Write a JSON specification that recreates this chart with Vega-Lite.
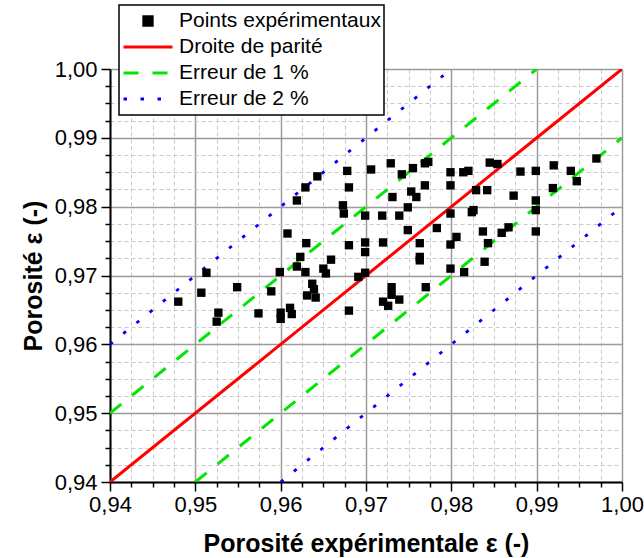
{
  "$schema": "https://vega.github.io/schema/vega-lite/v6.json",
  "width": 512,
  "height": 413,
  "autosize": {"type": "none"},
  "padding": {"left": 110, "top": 69, "right": 22, "bottom": 76},
  "background": "white",
  "config": {"font": "Liberation Sans", "view": {"stroke": null}},
  "datasets": {
    "points": [
      {"series": "Points expérimentaux", "x": 0.9480, "y": 0.9662},
      {"series": "Points expérimentaux", "x": 0.9507, "y": 0.9675},
      {"series": "Points expérimentaux", "x": 0.9513, "y": 0.9704},
      {"series": "Points expérimentaux", "x": 0.9549, "y": 0.9683},
      {"series": "Points expérimentaux", "x": 0.9527, "y": 0.9646},
      {"series": "Points expérimentaux", "x": 0.9525, "y": 0.9633},
      {"series": "Points expérimentaux", "x": 0.9574, "y": 0.9645},
      {"series": "Points expérimentaux", "x": 0.9589, "y": 0.9677},
      {"series": "Points expérimentaux", "x": 0.9599, "y": 0.9705},
      {"series": "Points expérimentaux", "x": 0.9600, "y": 0.9646},
      {"series": "Points expérimentaux", "x": 0.9600, "y": 0.9637},
      {"series": "Points expérimentaux", "x": 0.9611, "y": 0.9653},
      {"series": "Points expérimentaux", "x": 0.9613, "y": 0.9644},
      {"series": "Points expérimentaux", "x": 0.9608, "y": 0.9761},
      {"series": "Points expérimentaux", "x": 0.9619, "y": 0.9809},
      {"series": "Points expérimentaux", "x": 0.9629, "y": 0.9828},
      {"series": "Points expérimentaux", "x": 0.9643, "y": 0.9844},
      {"series": "Points expérimentaux", "x": 0.9630, "y": 0.9747},
      {"series": "Points expérimentaux", "x": 0.9623, "y": 0.9727},
      {"series": "Points expérimentaux", "x": 0.9619, "y": 0.9713},
      {"series": "Points expérimentaux", "x": 0.9629, "y": 0.9705},
      {"series": "Points expérimentaux", "x": 0.9631, "y": 0.9671},
      {"series": "Points expérimentaux", "x": 0.9637, "y": 0.9688},
      {"series": "Points expérimentaux", "x": 0.9639, "y": 0.9680},
      {"series": "Points expérimentaux", "x": 0.9641, "y": 0.9668},
      {"series": "Points expérimentaux", "x": 0.9650, "y": 0.9710},
      {"series": "Points expérimentaux", "x": 0.9653, "y": 0.9703},
      {"series": "Points expérimentaux", "x": 0.9659, "y": 0.9723},
      {"series": "Points expérimentaux", "x": 0.9678, "y": 0.9852},
      {"series": "Points expérimentaux", "x": 0.9680, "y": 0.9828},
      {"series": "Points expérimentaux", "x": 0.9673, "y": 0.9802},
      {"series": "Points expérimentaux", "x": 0.9674, "y": 0.9790},
      {"series": "Points expérimentaux", "x": 0.9680, "y": 0.9744},
      {"series": "Points expérimentaux", "x": 0.9680, "y": 0.9649},
      {"series": "Points expérimentaux", "x": 0.9691, "y": 0.9698},
      {"series": "Points expérimentaux", "x": 0.9699, "y": 0.9704},
      {"series": "Points expérimentaux", "x": 0.9699, "y": 0.9748},
      {"series": "Points expérimentaux", "x": 0.9699, "y": 0.9734},
      {"series": "Points expérimentaux", "x": 0.9699, "y": 0.9787},
      {"series": "Points expérimentaux", "x": 0.9706, "y": 0.9854},
      {"series": "Points expérimentaux", "x": 0.9719, "y": 0.9787},
      {"series": "Points expérimentaux", "x": 0.9720, "y": 0.9748},
      {"series": "Points expérimentaux", "x": 0.9729, "y": 0.9863},
      {"series": "Points expérimentaux", "x": 0.9731, "y": 0.9814},
      {"series": "Points expérimentaux", "x": 0.9739, "y": 0.9787},
      {"series": "Points expérimentaux", "x": 0.9742, "y": 0.9847},
      {"series": "Points expérimentaux", "x": 0.9755, "y": 0.9856},
      {"series": "Points expérimentaux", "x": 0.9753, "y": 0.9822},
      {"series": "Points expérimentaux", "x": 0.9759, "y": 0.9814},
      {"series": "Points expérimentaux", "x": 0.9749, "y": 0.9799},
      {"series": "Points expérimentaux", "x": 0.9749, "y": 0.9766},
      {"series": "Points expérimentaux", "x": 0.9730, "y": 0.9683},
      {"series": "Points expérimentaux", "x": 0.9730, "y": 0.9672},
      {"series": "Points expérimentaux", "x": 0.9720, "y": 0.9662},
      {"series": "Points expérimentaux", "x": 0.9726, "y": 0.9656},
      {"series": "Points expérimentaux", "x": 0.9739, "y": 0.9665},
      {"series": "Points expérimentaux", "x": 0.9763, "y": 0.9747},
      {"series": "Points expérimentaux", "x": 0.9763, "y": 0.9727},
      {"series": "Points expérimentaux", "x": 0.9763, "y": 0.9722},
      {"series": "Points expérimentaux", "x": 0.9770, "y": 0.9683},
      {"series": "Points expérimentaux", "x": 0.9769, "y": 0.9863},
      {"series": "Points expérimentaux", "x": 0.9773, "y": 0.9865},
      {"series": "Points expérimentaux", "x": 0.9769, "y": 0.9831},
      {"series": "Points expérimentaux", "x": 0.9783, "y": 0.9769},
      {"series": "Points expérimentaux", "x": 0.9799, "y": 0.9850},
      {"series": "Points expérimentaux", "x": 0.9799, "y": 0.9831},
      {"series": "Points expérimentaux", "x": 0.9799, "y": 0.9790},
      {"series": "Points expérimentaux", "x": 0.9799, "y": 0.9745},
      {"series": "Points expérimentaux", "x": 0.9799, "y": 0.9710},
      {"series": "Points expérimentaux", "x": 0.9806, "y": 0.9756},
      {"series": "Points expérimentaux", "x": 0.9814, "y": 0.9850},
      {"series": "Points expérimentaux", "x": 0.9820, "y": 0.9852},
      {"series": "Points expérimentaux", "x": 0.9829, "y": 0.9824},
      {"series": "Points expérimentaux", "x": 0.9842, "y": 0.9824},
      {"series": "Points expérimentaux", "x": 0.9824, "y": 0.9792},
      {"series": "Points expérimentaux", "x": 0.9826, "y": 0.9795},
      {"series": "Points expérimentaux", "x": 0.9815, "y": 0.9705},
      {"series": "Points expérimentaux", "x": 0.9837, "y": 0.9764},
      {"series": "Points expérimentaux", "x": 0.9843, "y": 0.9747},
      {"series": "Points expérimentaux", "x": 0.9839, "y": 0.9720},
      {"series": "Points expérimentaux", "x": 0.9845, "y": 0.9864},
      {"series": "Points expérimentaux", "x": 0.9854, "y": 0.9862},
      {"series": "Points expérimentaux", "x": 0.9859, "y": 0.9762},
      {"series": "Points expérimentaux", "x": 0.9867, "y": 0.9770},
      {"series": "Points expérimentaux", "x": 0.9873, "y": 0.9816},
      {"series": "Points expérimentaux", "x": 0.9881, "y": 0.9851},
      {"series": "Points expérimentaux", "x": 0.9899, "y": 0.9852},
      {"series": "Points expérimentaux", "x": 0.9899, "y": 0.9809},
      {"series": "Points expérimentaux", "x": 0.9899, "y": 0.9795},
      {"series": "Points expérimentaux", "x": 0.9899, "y": 0.9764},
      {"series": "Points expérimentaux", "x": 0.9919, "y": 0.9827},
      {"series": "Points expérimentaux", "x": 0.9920, "y": 0.9860},
      {"series": "Points expérimentaux", "x": 0.9940, "y": 0.9852},
      {"series": "Points expérimentaux", "x": 0.9947, "y": 0.9837},
      {"series": "Points expérimentaux", "x": 0.9970, "y": 0.9870}
    ],
    "lines": [
      {"series": "Droite de parité", "part": "centre", "x": 0.94, "y": 0.94},
      {"series": "Droite de parité", "part": "centre", "x": 1.00, "y": 1.00},
      {"series": "Erreur de 1 %", "part": "haut", "x": 0.94, "y": 0.95},
      {"series": "Erreur de 1 %", "part": "haut", "x": 0.99, "y": 1.00},
      {"series": "Erreur de 1 %", "part": "bas", "x": 0.95, "y": 0.94},
      {"series": "Erreur de 1 %", "part": "bas", "x": 1.00, "y": 0.99},
      {"series": "Erreur de 2 %", "part": "haut", "x": 0.94, "y": 0.96},
      {"series": "Erreur de 2 %", "part": "haut", "x": 0.98, "y": 1.00},
      {"series": "Erreur de 2 %", "part": "bas", "x": 0.96, "y": 0.94},
      {"series": "Erreur de 2 %", "part": "bas", "x": 1.00, "y": 0.98}
    ]
  },
  "encoding": {
    "x": {
      "field": "x", "type": "quantitative",
      "scale": {"domain": [0.94, 1.0], "nice": false, "zero": false},
      "axis": {
        "title": "Porosité expérimentale ε (-)",
        "values": [0.94,0.9425,0.945,0.9475,0.95,0.9525,0.955,0.9575,0.96,0.9625,0.965,0.9675,0.97,0.9725,0.975,0.9775,0.98,0.9825,0.985,0.9875,0.99,0.9925,0.995,0.9975,1.0],
        "labelExpr": "abs(datum.value*100 - round(datum.value*100)) < 0.01 ? replace(format(datum.value, '.2f'), '.', ',') : ''",
        "labelFont": "Liberation Sans", "labelFontSize": 22, "labelColor": "black",
        "labelPadding": 3, "labelOverlap": false, "labelFlush": false, "labelBound": false,
        "tickSize": {"condition": {"test": "abs(datum.value*100 - round(datum.value*100)) < 0.01", "value": 9}, "value": 5},
        "tickColor": "black", "tickWidth": 1.5,
        "domainColor": "black", "domainWidth": 2,
        "grid": true,
        "gridColor": {"condition": {"test": "abs(datum.value*100 - round(datum.value*100)) < 0.01", "value": "#9a9a9a"}, "value": "#c8c8c8"},
        "gridDash": {"condition": {"test": "abs(datum.value*100 - round(datum.value*100)) < 0.01", "value": []}, "value": [4, 3]},
        "gridWidth": {"condition": {"test": "abs(datum.value*100 - round(datum.value*100)) < 0.01", "value": 1.5}, "value": 1},
        "titleFont": "Liberation Sans", "titleFontSize": 25, "titleFontWeight": "bold", "titleColor": "black",
        "titlePadding": 16
      }
    },
    "y": {
      "field": "y", "type": "quantitative",
      "scale": {"domain": [0.94, 1.0], "nice": false, "zero": false},
      "axis": {
        "title": "Porosité ε (-)",
        "values": [0.94,0.9425,0.945,0.9475,0.95,0.9525,0.955,0.9575,0.96,0.9625,0.965,0.9675,0.97,0.9725,0.975,0.9775,0.98,0.9825,0.985,0.9875,0.99,0.9925,0.995,0.9975,1.0],
        "labelExpr": "abs(datum.value*100 - round(datum.value*100)) < 0.01 ? replace(format(datum.value, '.2f'), '.', ',') : ''",
        "labelFont": "Liberation Sans", "labelFontSize": 22, "labelColor": "black",
        "labelPadding": 4, "labelOverlap": false, "labelFlush": false, "labelBound": false,
        "tickSize": {"condition": {"test": "abs(datum.value*100 - round(datum.value*100)) < 0.01", "value": 9}, "value": 5},
        "tickColor": "black", "tickWidth": 1.5,
        "domainColor": "black", "domainWidth": 2,
        "grid": true,
        "gridColor": {"condition": {"test": "abs(datum.value*100 - round(datum.value*100)) < 0.01", "value": "#9a9a9a"}, "value": "#c8c8c8"},
        "gridDash": {"condition": {"test": "abs(datum.value*100 - round(datum.value*100)) < 0.01", "value": []}, "value": [4, 3]},
        "gridWidth": {"condition": {"test": "abs(datum.value*100 - round(datum.value*100)) < 0.01", "value": 1.5}, "value": 1},
        "titleFont": "Liberation Sans", "titleFontSize": 25, "titleFontWeight": "bold", "titleColor": "black",
        "titlePadding": 8
      }
    },
    "color": {
      "field": "series", "type": "nominal",
      "scale": {
        "domain": ["Points expérimentaux", "Droite de parité", "Erreur de 1 %", "Erreur de 2 %"],
        "range": ["#000000", "#ff0000", "#00e600", "#0000ff"]
      },
      "legend": {
        "orient": "none", "legendX": 9, "legendY": -64,
        "title": null,
        "labelFont": "Liberation Sans", "labelFontSize": 21, "labelColor": "black",
        "labelLimit": 0,
        "symbolSize": 2401, "clipHeight": 26, "rowPadding": 0,
        "labelOffset": 5, "padding": 3,
        "strokeColor": "black", "fillColor": "white",
        "symbolStrokeWidth": 2.8,
        "encode": {
          "legend": {"update": {"strokeWidth": {"value": 1.5}}},
          "symbols": {
            "update": {
              "shape": {"signal": "datum.value === 'Points expérimentaux' ? 'square' : 'stroke'"},
              "size": {"signal": "datum.value === 'Points expérimentaux' ? 72 : 2401"},
              "fill": {"signal": "datum.value === 'Points expérimentaux' ? '#000000' : 'transparent'"},
              "stroke": {"signal": "datum.value === 'Points expérimentaux' ? 'transparent' : scale('color', datum.value)"},
              "strokeWidth": {"value": 2.8},
              "strokeDash": {"signal": "datum.value === 'Erreur de 1 %' ? [15, 14] : datum.value === 'Erreur de 2 %' ? [3.5, 13.5] : [1, 0]"},
              "opacity": {"value": 1}
            }
          }
        }
      }
    }
  },
  "layer": [
    {
      "data": {"name": "lines"},
      "transform": [{"filter": "datum.series === 'Erreur de 2 %'"}],
      "mark": {"type": "line", "strokeWidth": 2.8, "strokeDash": [3.5, 13.5], "clip": true},
      "encoding": {"detail": {"field": "part", "type": "nominal"}}
    },
    {
      "data": {"name": "lines"},
      "transform": [{"filter": "datum.series === 'Erreur de 1 %'"}],
      "mark": {"type": "line", "strokeWidth": 3, "strokeDash": [14.5, 14], "clip": true},
      "encoding": {"detail": {"field": "part", "type": "nominal"}}
    },
    {
      "data": {"name": "lines"},
      "transform": [{"filter": "datum.series === 'Droite de parité'"}],
      "mark": {"type": "line", "strokeWidth": 3, "clip": true},
      "encoding": {"detail": {"field": "part", "type": "nominal"}}
    },
    {
      "data": {"name": "points"},
      "mark": {"type": "square", "size": 70, "opacity": 1},
      "encoding": {}
    }
  ]
}
